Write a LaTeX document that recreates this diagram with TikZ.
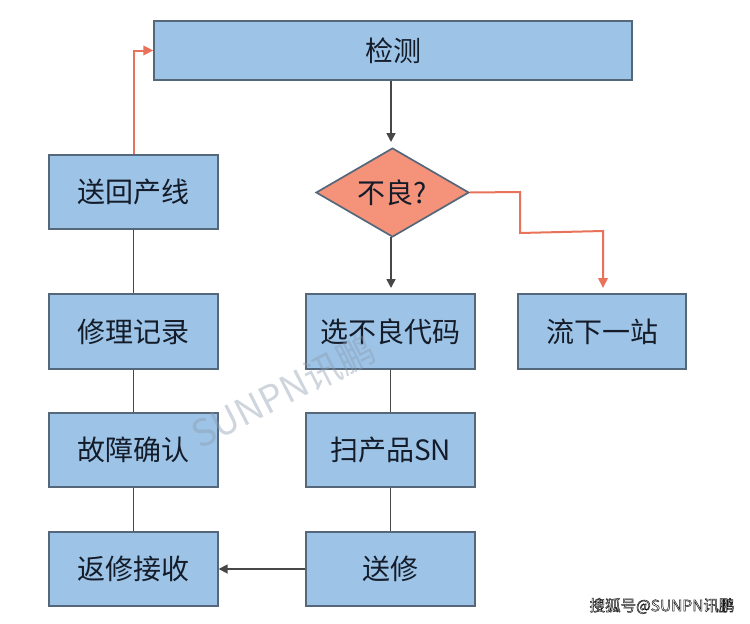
\documentclass[tikz,border=0pt]{standalone}
\usepackage{fontspec}
\setmainfont{Noto Sans CJK SC}
\usetikzlibrary{arrows.meta,shapes.geometric}
\definecolor{boxfill}{HTML}{9DC3E6}
\definecolor{boxline}{HTML}{55677A}
\definecolor{diafill}{HTML}{F4927A}
\definecolor{redline}{HTML}{E8735A}
\definecolor{darkline}{HTML}{474747}
\definecolor{txt}{HTML}{141C2A}
\definecolor{wm}{HTML}{8A9BAE}
\tikzset{
  x=1pt,y=-1pt,
  stepbox/.style={draw=boxline,line width=1.9pt,fill=boxfill,text=txt,font=\fontsize{28}{30}\selectfont,inner sep=0pt,minimum width=168.5pt,minimum height=74.5pt,anchor=center},
  decide/.style={diamond,aspect=1.72,draw=boxline,line width=1.7pt,fill=diafill,text=txt,font=\fontsize{28}{30}\selectfont,inner sep=0pt,minimum width=153pt,minimum height=89pt},
  plainlink/.style={draw=darkline,line width=1.7pt},
  darkarrow/.style={draw=darkline,line width=1.7pt,-{Triangle[length=9pt,width=9pt]},shorten >=6pt},
  redarrow/.style={draw=redline,line width=2pt,-{Triangle[length=10pt,width=9.5pt]}},
}
\begin{document}
\begin{tikzpicture}
\useasboundingbox (0,0) rectangle (750,624);
\node[stepbox,minimum width=477.5pt,minimum height=59pt] (top) at (393,50.5) {检测};
\node[decide] (dec) at (392.5,192.5) {不良?};
\node[stepbox] (a1) at (133.5,192) {送回产线};
\node[stepbox] (a2) at (133.5,331.5) {修理记录};
\node[stepbox] (a3) at (133.5,450) {故障确认};
\node[stepbox] (a4) at (133.5,569) {返修接收};
\node[stepbox] (b1) at (390.5,331.5) {选不良代码};
\node[stepbox] (b2) at (390.5,450) {扫产品SN};
\node[stepbox] (b3) at (390.5,569) {送修};
\node[stepbox] (c1) at (602,331.5) {流下一站};
\coordinate (r1) at (520,192);
\coordinate (r2) at (520,233);
\coordinate (r3) at (603,231);
\coordinate (r4) at (603,288);
\coordinate (t0) at (391,80.5);
\coordinate (d0) at (391,236.5);
\coordinate (b0) at (391,294);
\coordinate (dt) at (391,148);
\draw[darkarrow] (t0) -- (dt);
\draw[darkarrow] (d0) -- (b0);
\draw[redarrow] (dec.east) -- (r1) -- (r2) -- (r3) -- (r4);
\draw[redarrow] (a1.north) |- (top.west);
\draw[plainlink] (a1) -- (a2);
\draw[plainlink] (a2) -- (a3);
\draw[plainlink] (a3) -- (a4);
\draw[plainlink] (b1) -- (b2);
\draw[plainlink] (b2) -- (b3);
\draw[plainlink,-{Triangle[length=9pt,width=9pt]}] (b3) -- (a4);
\node[rotate=27,text=wm,opacity=.42,font=\fontsize{37}{40}\selectfont] (mark) at (283,392) {SUNPN讯鹏};
\node[text=black,font=\fontsize{15.5}{18}\selectfont,inner sep=0pt] (credit) at (662,606) {\special{pdf:code q 2 Tr 0.5 w 1 1 1 rg 0.1 0.1 0.1 RG}搜狐号@SUNPN讯鹏\special{pdf:code Q}};
\end{tikzpicture}
\end{document}
